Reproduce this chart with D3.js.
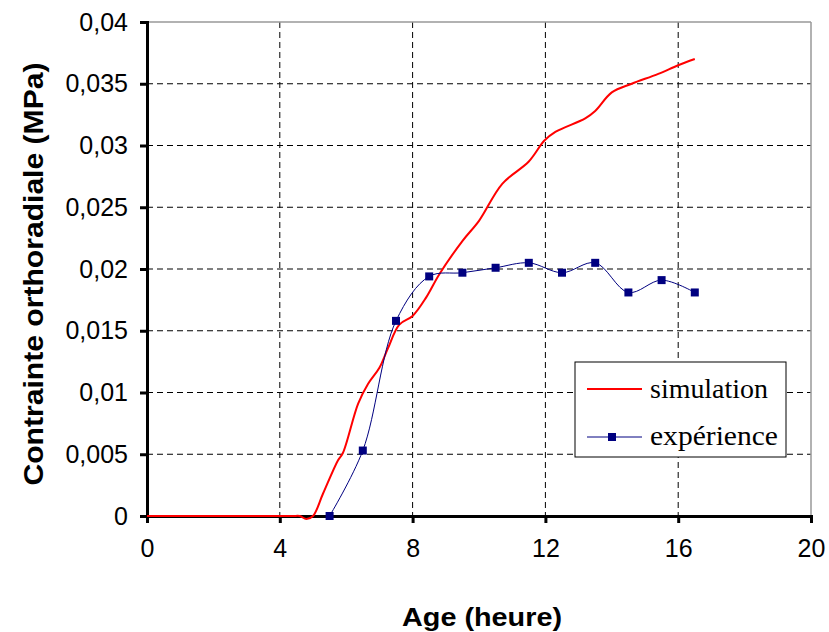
<!DOCTYPE html>
<html>
<head>
<meta charset="utf-8">
<script src="https://cdn.jsdelivr.net/npm/d3@7"></script>
<style>
  body { margin: 0; background: #fff; }
  svg { display: block; }
</style>
</head>
<body>
<div id="chart"></div>
<script>
// simulation curve (heure, MPa)
const simAge = [0, 2, 4, 4.4, 4.6, 4.8, 5.0, 5.3, 5.75, 5.9, 6.36, 6.66, 7.0, 7.26, 7.6, 8.0, 8.41, 8.81, 9.51, 10.0, 10.7, 11.5, 11.97, 12.3, 13.2, 13.5, 14.0, 14.6, 15.4, 16.0, 16.5];
const simVal = [0, 0, 0, 0, 0, -0.00025, 0, 0.0018, 0.0045, 0.0051, 0.0091, 0.0107, 0.012, 0.0136, 0.0155, 0.0162, 0.0177, 0.0196, 0.0223, 0.0239, 0.0269, 0.0287, 0.0304, 0.0311, 0.0322, 0.0328, 0.0343, 0.035, 0.0358, 0.0365, 0.037];
// experimental points
const expAge = [5.5, 6.5, 7.5, 8.5, 9.5, 10.5, 11.5, 12.5, 13.5, 14.5, 15.5, 16.5];
const expVal = [0, 0.0053, 0.0158, 0.0194, 0.0197, 0.0201, 0.0205, 0.0197, 0.0205, 0.0181, 0.0191, 0.0181];
const xTicks = [0, 4, 8, 12, 16, 20];
const yTicks = [0, 0.005, 0.01, 0.015, 0.02, 0.025, 0.03, 0.035, 0.04];

const W = 829, H = 632;
const margin = { top: 22, right: 18, bottom: 116, left: 147 },
    width = W - margin.left - margin.right,
    height = H - margin.top - margin.bottom;

const svg = d3.select("#chart").append("svg")
    .attr("width", W)
    .attr("height", H);
const g = svg.append("g")
    .attr("transform", `translate(${margin.left},${margin.top})`);

const x = d3.scaleLinear().domain([0, 20]).range([0, width]);
const y = d3.scaleLinear().domain([0, 0.04]).range([height, 0]);
const fmtY = d => d === 0 ? "0" : d3.format(".3~f")(d).replace(".", ",");

// grid
g.selectAll("line.vgrid")
    .data(xTicks.filter(d => d > 0 && d < 20))
    .enter().append("line")
    .attr("x1", d => x(d)).attr("x2", d => x(d))
    .attr("y1", 0).attr("y2", height)
    .attr("stroke", "#000").attr("stroke-width", 1)
    .attr("stroke-dasharray", "6,4");
g.selectAll("line.hgrid")
    .data(yTicks.filter(d => d > 0 && d < 0.04))
    .enter().append("line")
    .attr("x1", 0).attr("x2", width)
    .attr("y1", d => y(d)).attr("y2", d => y(d))
    .attr("stroke", "#000").attr("stroke-width", 1)
    .attr("stroke-dasharray", "6,4");

// top / right border
g.append("line").attr("x1", 0).attr("x2", width).attr("y1", 0).attr("y2", 0)
    .attr("stroke", "#999").attr("stroke-width", 1.5);
g.append("line").attr("x1", width).attr("x2", width).attr("y1", 0).attr("y2", height)
    .attr("stroke", "#999").attr("stroke-width", 1.5);

// axes
const xAxis = g.append("g")
    .attr("transform", `translate(0,${height})`)
    .call(d3.axisBottom(x).tickValues(xTicks).tickSize(7).tickPadding(16));
const yAxis = g.append("g")
    .call(d3.axisLeft(y).tickValues(yTicks).tickSize(7).tickPadding(12).tickFormat(fmtY));
[xAxis, yAxis].forEach(a => {
    a.select(".domain").attr("stroke", "#000").attr("stroke-width", 3);
    a.selectAll(".tick line").attr("stroke", "#000").attr("stroke-width", 3);
    a.selectAll(".tick text")
        .attr("fill", "#000")
        .style("font-family", "Liberation Sans, Arial, sans-serif")
        .style("font-size", "25px");
});

// simulation line
const sim = simAge.map((a, i) => ({ a: a, v: simVal[i] }));
const exp = expAge.map((a, i) => ({ a: a, v: expVal[i] }));

g.append("path")
    .datum(sim)
    .attr("fill", "none")
    .attr("stroke", "#ff0000")
    .attr("stroke-width", 2)
    .attr("d", d3.line().curve(d3.curveCatmullRom).x(d => x(d.a)).y(d => y(d.v)));

g.append("path")
    .datum(exp)
    .attr("fill", "none")
    .attr("stroke", "#000080")
    .attr("stroke-width", 1)
    .attr("d", d3.line().curve(d3.curveCatmullRom).x(d => x(d.a)).y(d => y(d.v)));

g.selectAll("rect.pt")
    .data(exp)
    .enter().append("rect")
    .attr("x", d => x(d.a) - 4)
    .attr("y", d => y(d.v) - 4)
    .attr("width", 8).attr("height", 8)
    .attr("fill", "#000080");

// axis titles
svg.append("text")
    .attr("x", 482).attr("y", 626)
    .attr("text-anchor", "middle")
    .attr("textLength", 160)
    .attr("lengthAdjust", "spacingAndGlyphs")
    .style("font-family", "Liberation Sans, Arial, sans-serif")
    .style("font-weight", "bold")
    .style("font-size", "26px")
    .text("Age (heure)");
svg.append("text")
    .attr("transform", "translate(43,274) rotate(-90)")
    .attr("text-anchor", "middle")
    .attr("textLength", 423)
    .attr("lengthAdjust", "spacingAndGlyphs")
    .style("font-family", "Liberation Sans, Arial, sans-serif")
    .style("font-weight", "bold")
    .style("font-size", "27px")
    .text("Contrainte orthoradiale (MPa)");

// legend
const lg = svg.append("g").attr("transform", "translate(575,362)");
lg.append("rect")
    .attr("width", 211).attr("height", 95)
    .attr("fill", "#fff").attr("stroke", "#000").attr("stroke-width", 1);
lg.append("line").attr("x1", 12).attr("x2", 67).attr("y1", 27).attr("y2", 27)
    .attr("stroke", "#ff0000").attr("stroke-width", 2);
lg.append("line").attr("x1", 12).attr("x2", 67).attr("y1", 75).attr("y2", 75)
    .attr("stroke", "#000080").attr("stroke-width", 1);
lg.append("rect").attr("x", 33).attr("y", 71).attr("width", 8).attr("height", 8)
    .attr("fill", "#000080");
const legText = ["simulation", "expérience"];
lg.selectAll("text.leg")
    .data(legText)
    .enter().append("text")
    .attr("x", 75)
    .attr("y", (d, i) => 36 + i * 47)
    .attr("textLength", (d, i) => i === 0 ? 118 : 128)
    .attr("lengthAdjust", "spacingAndGlyphs")
    .style("font-family", "Liberation Serif, Times New Roman, serif")
    .style("font-size", "27px")
    .text(d => d);
</script>
</body>
</html>
